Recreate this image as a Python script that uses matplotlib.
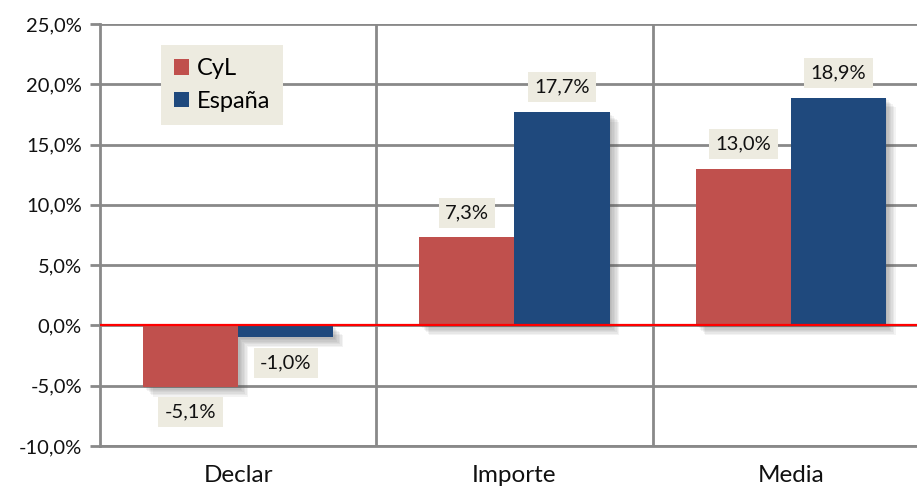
import matplotlib
matplotlib.use("Agg")
import matplotlib.pyplot as plt
import matplotlib.patheffects as pe
import numpy as np
from matplotlib.ticker import FuncFormatter

plt.rcParams['font.family'] = ['Lato', 'DejaVu Sans']

# data
categories = ["Declar", "Importe", "Media"]
series_names = ["CyL", "España"]
cyl = [-5.1, 7.3, 13.0]
espana = [-1.0, 17.7, 18.9]
colors = ["#C0504D", "#1F497D"]
box_color = "#EDEBE0"
grid_color = "#898989"

fig = plt.figure(figsize=(9.17, 4.91), dpi=100)
# plot area runs a little past the right edge of the image
ax = fig.add_axes([100 / 917, 45 / 491, 829 / 917, 422 / 491])

x = np.arange(len(categories))
w = 0.344

bars = []
for i, (vals, col) in enumerate(zip([cyl, espana], colors)):
    b = ax.bar(x + (i - 0.5) * w, vals, w, color=col, label=series_names[i], zorder=3)
    bars.append(b)

# data labels
for b_set, vals in zip(bars, [cyl, espana]):
    for rect, v in zip(b_set, vals):
        cx = rect.get_x() + rect.get_width() / 2
        off = 2.05 if v >= 0 else -2.1
        ax.text(cx, v + off, f"{v:.1f}%".replace(".", ","), ha="center", va="center",
                fontsize=14.5, color="#111111", zorder=5,
                bbox=dict(boxstyle="square,pad=0.32", fc=box_color, ec="none"))

ax.set_xlim(-0.5, 2.5)
ax.set_ylim(-10, 25)
ax.set_yticks(np.arange(-10, 26, 5))
ax.yaxis.set_major_formatter(FuncFormatter(lambda v, p: f"{v:.1f}%".replace(".", ",")))
ax.tick_params(axis="y", labelsize=14.5, length=7, width=2, color=grid_color, pad=6,
               labelcolor="#111111")
ax.set_xticks(x)
ax.set_xticklabels(categories, fontsize=17.5, color="#111111")
ax.tick_params(axis="x", length=0, pad=14)

ax.grid(axis="y", color=grid_color, lw=2, zorder=0)
for sep in [0.5, 1.5]:
    ax.axvline(sep, color=grid_color, lw=2, zorder=1)
ax.axhline(0, color="#FF0000", lw=1.6, zorder=4)

for s in ["top", "right"]:
    ax.spines[s].set_visible(False)
for s in ["left", "bottom"]:
    ax.spines[s].set_color(grid_color)
    ax.spines[s].set_linewidth(2)

leg = ax.legend(loc="upper left", bbox_to_anchor=(61 / 829, 1 - 21 / 422), frameon=True,
                fancybox=False, fontsize=17, handlelength=0.65, handleheight=0.65,
                handletextpad=0.3, labelspacing=0.5, borderpad=0.55, borderaxespad=0)
leg.get_frame().set_facecolor(box_color)
leg.get_frame().set_edgecolor("none")
leg.get_frame().set_alpha(1)
leg.set_zorder(6)

# soft drop shadow on the bars (added after the legend so the keys stay flat)
shadow = [pe.SimplePatchShadow(offset=(k, -k), shadow_rgbFace="#555555", alpha=0.07)
          for k in range(1, 8)] + [pe.Normal()]
for b_set in bars:
    for rect in b_set:
        rect.set_path_effects(shadow)

fig.savefig("out.png", dpi=100)
